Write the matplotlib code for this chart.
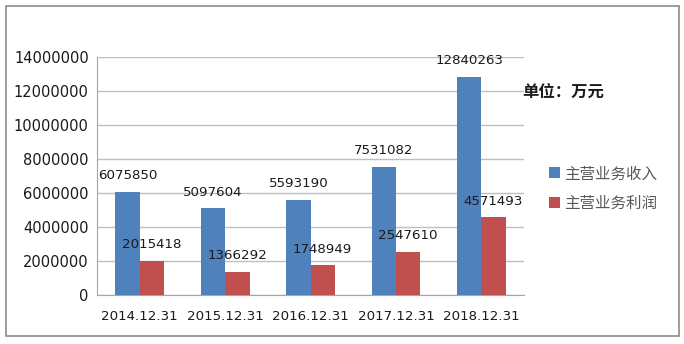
import matplotlib.pyplot as plt
import numpy as np
from matplotlib.patches import Rectangle

plt.rcParams['font.family'] = ['Noto Sans CJK SC', 'DejaVu Sans']

dates = ["2014.12.31", "2015.12.31", "2016.12.31", "2017.12.31", "2018.12.31"]
revenue = [6075850, 5097604, 5593190, 7531082, 12840263]
profit = [2015418, 1366292, 1748949, 2547610, 4571493]
series_names = ["主营业务收入", "主营业务利润"]

BLUE = "#4F81BD"
RED = "#C0504D"
GRID = "#BFBFBF"

fig = plt.figure(figsize=(6.84, 3.44), dpi=100)
ax = fig.add_axes([0.142, 0.142, 0.624, 0.692])

x = np.arange(len(dates))
w = 0.285
b1 = ax.bar(x - w / 2, revenue, w, color=BLUE, label=series_names[0], zorder=3)
b2 = ax.bar(x + w / 2, profit, w, color=RED, label=series_names[1], zorder=3)

for bars in (b1, b2):
    for r in bars:
        ax.annotate(str(int(r.get_height())),
                    (r.get_x() + r.get_width() / 2, r.get_height()),
                    xytext=(0, 7), textcoords="offset points",
                    ha="center", va="bottom", fontsize=9.6, color="#1a1a1a",
                    family="DejaVu Sans", zorder=4)

ax.set_xlim(-0.5, len(dates) - 0.5)
ax.set_ylim(0, 14000000)
ax.set_yticks(np.arange(0, 14000001, 2000000))
ax.set_yticklabels([str(v) for v in range(0, 14000001, 2000000)])
ax.set_xticks(x)
ax.set_xticklabels(dates)
ax.tick_params(axis="both", length=0, colors="#1a1a1a")
ax.tick_params(axis="y", pad=6, labelsize=10.5)
ax.tick_params(axis="x", pad=11, labelsize=9.6)
for lab in ax.get_xticklabels() + ax.get_yticklabels():
    lab.set_family("DejaVu Sans")

ax.grid(axis="y", color=GRID, linewidth=1, zorder=0)
for side in ("top", "right"):
    ax.spines[side].set_visible(False)
ax.spines["left"].set_color("#A6A6A6")
ax.spines["bottom"].set_color("#A6A6A6")

fig.text(0.763, 0.732, "单位：万元", fontsize=11.8, fontweight="bold",
         ha="left", va="center", color="#1a1a1a")

leg = fig.legend(handles=[b1, b2], labels=series_names, loc="upper left",
                 bbox_to_anchor=(0.782, 0.56), frameon=False, fontsize=11.2,
                 handlelength=0.7, handleheight=0.7, handletextpad=0.25,
                 labelspacing=0.8, labelcolor="#595959")

fig.patches.append(Rectangle((6 / 684, 8 / 344), 673 / 684, 330 / 344,
                             transform=fig.transFigure, fill=False,
                             edgecolor="#8C8C8C", linewidth=1.2))

fig.savefig("out.png", dpi=100)
